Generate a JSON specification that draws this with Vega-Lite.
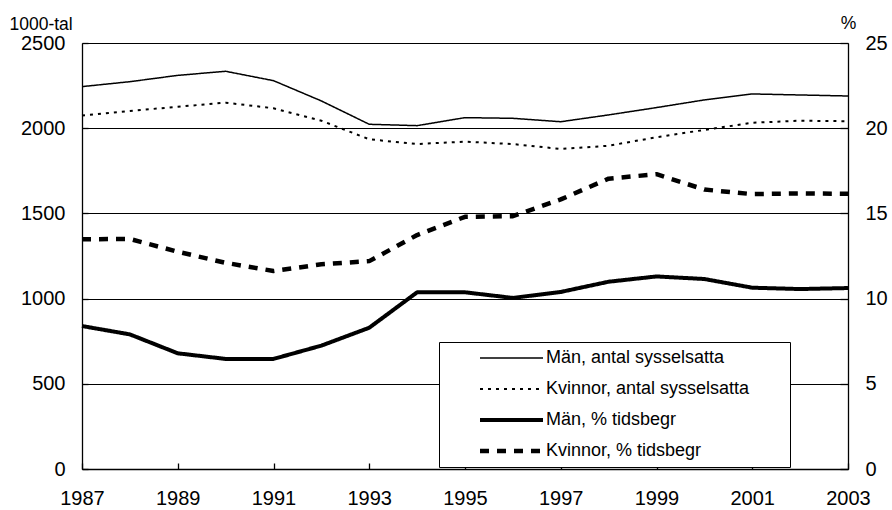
{
  "$schema": "https://vega.github.io/schema/vega-lite/v6.json",
  "width": 766,
  "height": 426,
  "autosize": {"type": "none"},
  "padding": {"left": 82, "top": 43, "right": 44, "bottom": 41},
  "background": "white",
  "config": {
    "font": "Liberation Sans",
    "view": {"stroke": null},
    "axis": {"labelFont": "Liberation Sans", "titleFont": "Liberation Sans", "labelColor": "black", "titleColor": "black", "domainColor": "black", "tickColor": "black", "gridColor": "black", "gridWidth": 1, "domainWidth": 1.3, "tickWidth": 1.3}
  },
  "datasets": {
    "d": [
      {"year": 1987, "series": "Män, antal sysselsatta", "value": 2244},
      {"year": 1988, "series": "Män, antal sysselsatta", "value": 2273},
      {"year": 1989, "series": "Män, antal sysselsatta", "value": 2310},
      {"year": 1990, "series": "Män, antal sysselsatta", "value": 2334},
      {"year": 1991, "series": "Män, antal sysselsatta", "value": 2279},
      {"year": 1992, "series": "Män, antal sysselsatta", "value": 2160},
      {"year": 1993, "series": "Män, antal sysselsatta", "value": 2023},
      {"year": 1994, "series": "Män, antal sysselsatta", "value": 2015},
      {"year": 1995, "series": "Män, antal sysselsatta", "value": 2062},
      {"year": 1996, "series": "Män, antal sysselsatta", "value": 2058},
      {"year": 1997, "series": "Män, antal sysselsatta", "value": 2038},
      {"year": 1998, "series": "Män, antal sysselsatta", "value": 2078},
      {"year": 1999, "series": "Män, antal sysselsatta", "value": 2121},
      {"year": 2000, "series": "Män, antal sysselsatta", "value": 2166},
      {"year": 2001, "series": "Män, antal sysselsatta", "value": 2201},
      {"year": 2002, "series": "Män, antal sysselsatta", "value": 2195},
      {"year": 2003, "series": "Män, antal sysselsatta", "value": 2189},
      {"year": 1987, "series": "Kvinnor, antal sysselsatta", "value": 2074},
      {"year": 1988, "series": "Kvinnor, antal sysselsatta", "value": 2101},
      {"year": 1989, "series": "Kvinnor, antal sysselsatta", "value": 2126},
      {"year": 1990, "series": "Kvinnor, antal sysselsatta", "value": 2150},
      {"year": 1991, "series": "Kvinnor, antal sysselsatta", "value": 2117},
      {"year": 1992, "series": "Kvinnor, antal sysselsatta", "value": 2044},
      {"year": 1993, "series": "Kvinnor, antal sysselsatta", "value": 1935},
      {"year": 1994, "series": "Kvinnor, antal sysselsatta", "value": 1907},
      {"year": 1995, "series": "Kvinnor, antal sysselsatta", "value": 1921},
      {"year": 1996, "series": "Kvinnor, antal sysselsatta", "value": 1907},
      {"year": 1997, "series": "Kvinnor, antal sysselsatta", "value": 1878},
      {"year": 1998, "series": "Kvinnor, antal sysselsatta", "value": 1897},
      {"year": 1999, "series": "Kvinnor, antal sysselsatta", "value": 1947},
      {"year": 2000, "series": "Kvinnor, antal sysselsatta", "value": 1990},
      {"year": 2001, "series": "Kvinnor, antal sysselsatta", "value": 2032},
      {"year": 2002, "series": "Kvinnor, antal sysselsatta", "value": 2044},
      {"year": 2003, "series": "Kvinnor, antal sysselsatta", "value": 2041},
      {"year": 1987, "series": "Män, % tidsbegr", "value": 8.39},
      {"year": 1988, "series": "Män, % tidsbegr", "value": 7.9},
      {"year": 1989, "series": "Män, % tidsbegr", "value": 6.79},
      {"year": 1990, "series": "Män, % tidsbegr", "value": 6.46},
      {"year": 1991, "series": "Män, % tidsbegr", "value": 6.46},
      {"year": 1992, "series": "Män, % tidsbegr", "value": 7.24},
      {"year": 1993, "series": "Män, % tidsbegr", "value": 8.29},
      {"year": 1994, "series": "Män, % tidsbegr", "value": 10.37},
      {"year": 1995, "series": "Män, % tidsbegr", "value": 10.37},
      {"year": 1996, "series": "Män, % tidsbegr", "value": 10.04},
      {"year": 1997, "series": "Män, % tidsbegr", "value": 10.39},
      {"year": 1998, "series": "Män, % tidsbegr", "value": 10.99},
      {"year": 1999, "series": "Män, % tidsbegr", "value": 11.3},
      {"year": 2000, "series": "Män, % tidsbegr", "value": 11.15},
      {"year": 2001, "series": "Män, % tidsbegr", "value": 10.64},
      {"year": 2002, "series": "Män, % tidsbegr", "value": 10.56},
      {"year": 2003, "series": "Män, % tidsbegr", "value": 10.62},
      {"year": 1987, "series": "Kvinnor, % tidsbegr", "value": 13.48},
      {"year": 1988, "series": "Kvinnor, % tidsbegr", "value": 13.5},
      {"year": 1989, "series": "Kvinnor, % tidsbegr", "value": 12.75},
      {"year": 1990, "series": "Kvinnor, % tidsbegr", "value": 12.1},
      {"year": 1991, "series": "Kvinnor, % tidsbegr", "value": 11.62},
      {"year": 1992, "series": "Kvinnor, % tidsbegr", "value": 12.01},
      {"year": 1993, "series": "Kvinnor, % tidsbegr", "value": 12.2},
      {"year": 1994, "series": "Kvinnor, % tidsbegr", "value": 13.73},
      {"year": 1995, "series": "Kvinnor, % tidsbegr", "value": 14.8},
      {"year": 1996, "series": "Kvinnor, % tidsbegr", "value": 14.84},
      {"year": 1997, "series": "Kvinnor, % tidsbegr", "value": 15.82},
      {"year": 1998, "series": "Kvinnor, % tidsbegr", "value": 17.04},
      {"year": 1999, "series": "Kvinnor, % tidsbegr", "value": 17.3},
      {"year": 2000, "series": "Kvinnor, % tidsbegr", "value": 16.4},
      {"year": 2001, "series": "Kvinnor, % tidsbegr", "value": 16.13},
      {"year": 2002, "series": "Kvinnor, % tidsbegr", "value": 16.17},
      {"year": 2003, "series": "Kvinnor, % tidsbegr", "value": 16.15}
    ]
  },
  "data": {"name": "d"},
  "layer": [
    {
      "transform": [{"filter": "indexof(datum.series, 'antal') >= 0"}],
      "mark": {"type": "line", "strokeCap": "butt", "strokeJoin": "round"},
      "encoding": {
        "x": {
          "field": "year", "type": "quantitative",
          "scale": {"domain": [1987, 2003], "nice": false, "zero": false},
          "axis": {"title": null, "values": [1987, 1989, 1991, 1993, 1995, 1997, 1999, 2001, 2003], "format": "d", "grid": false, "tickSize": -6, "labelPadding": 25, "labelFontSize": 20, "labelFlush": false}
        },
        "y": {
          "field": "value", "type": "quantitative",
          "scale": {"domain": [0, 2500], "nice": false},
          "axis": {"orient": "left", "values": [0, 500, 1000, 1500, 2000, 2500], "format": "d", "grid": true, "tickSize": -6, "labelPadding": 23, "labelFontSize": 20, "title": "1000-tal", "titleAngle": 0, "titleAlign": "left", "titleBaseline": "alphabetic", "titleX": -73, "titleY": -14, "titleFontSize": 17.5, "titleFontWeight": "normal"}
        },
        "color": {"field": "series", "type": "nominal", "scale": {"domain": ["Män, antal sysselsatta", "Kvinnor, antal sysselsatta", "Män, % tidsbegr", "Kvinnor, % tidsbegr"], "range": ["black", "black", "black", "black"]},
          "legend": {"orient": "none", "legendX": 357, "legendY": 299, "title": null, "symbolType": "stroke", "symbolSize": 625, "symbolOpacity": 1, "labelFontSize": 18, "labelFont": "Liberation Sans", "labelColor": "black", "labelLimit": 500, "rowPadding": 0, "padding": 0.5, "clipHeight": 31, "strokeColor": "black", "fillColor": "white",
            "encode": {
              "symbols": {"update": {"size": {"value": 3970}, "x": {"value": 72}}},
              "labels": {"update": {"x": {"value": 106.5}, "text": {"signal": "datum.label + '\u00a0\u00a0\u00a0\u00a0\u00a0\u00a0\u00a0\u00a0\u200b'"}}}
            }
          }
        },
        "strokeDash": {"field": "series", "type": "nominal", "scale": {"domain": ["Män, antal sysselsatta", "Kvinnor, antal sysselsatta", "Män, % tidsbegr", "Kvinnor, % tidsbegr"], "range": [[1, 0], [3, 5], [1, 0], [9, 8]]}},
        "strokeWidth": {"field": "series", "type": "nominal", "scale": {"type": "ordinal", "domain": ["Män, antal sysselsatta", "Kvinnor, antal sysselsatta", "Män, % tidsbegr", "Kvinnor, % tidsbegr"], "range": [1.5, 2, 4, 4.5]}}
      }
    },
    {
      "transform": [{"filter": "indexof(datum.series, 'tidsbegr') >= 0"}],
      "mark": {"type": "line", "strokeCap": "butt", "strokeJoin": "round"},
      "encoding": {
        "x": {"field": "year", "type": "quantitative", "scale": {"domain": [1987, 2003], "nice": false, "zero": false}},
        "y": {
          "field": "value", "type": "quantitative",
          "scale": {"domain": [0, 25], "nice": false},
          "axis": {"orient": "right", "values": [0, 5, 10, 15, 20, 25], "grid": false, "tickSize": -8, "labelPadding": 25, "labelFontSize": 20, "title": "%", "titleAngle": 0, "titleAlign": "center", "titleBaseline": "alphabetic", "titleX": 0, "titleY": -15, "titleFontSize": 17.5, "titleFontWeight": "normal"}
        },
        "color": {"field": "series", "type": "nominal", "scale": {"domain": ["Män, antal sysselsatta", "Kvinnor, antal sysselsatta", "Män, % tidsbegr", "Kvinnor, % tidsbegr"], "range": ["black", "black", "black", "black"]}},
        "strokeDash": {"field": "series", "type": "nominal", "scale": {"domain": ["Män, antal sysselsatta", "Kvinnor, antal sysselsatta", "Män, % tidsbegr", "Kvinnor, % tidsbegr"], "range": [[1, 0], [3, 5], [1, 0], [9, 8]]}},
        "strokeWidth": {"field": "series", "type": "nominal", "scale": {"type": "ordinal", "domain": ["Män, antal sysselsatta", "Kvinnor, antal sysselsatta", "Män, % tidsbegr", "Kvinnor, % tidsbegr"], "range": [1.5, 2, 4, 4.5]}}
      }
    }
  ],
  "resolve": {"scale": {"y": "independent"}}
}
